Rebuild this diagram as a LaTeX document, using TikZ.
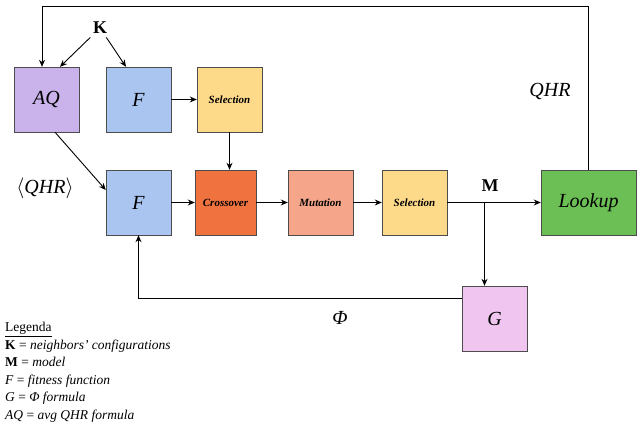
\documentclass[tikz,border=0pt]{standalone}
\usepackage{fontspec}
\setmainfont{Liberation Serif}
\usetikzlibrary{arrows.meta}
\definecolor{cAQ}{HTML}{C9B3EA}
\definecolor{cF}{HTML}{A9C5F0}
\definecolor{cSel}{HTML}{FDD98A}
\definecolor{cCross}{HTML}{F0733F}
\definecolor{cMut}{HTML}{F4A58A}
\definecolor{cLook}{HTML}{6CBF55}
\definecolor{cG}{HTML}{F0C6F0}
\begin{document}
\begin{tikzpicture}[x=1pt,y=-1pt,
  box/.style={draw=black!70, minimum width=65pt, minimum height=65pt, inner sep=0pt, font=\itshape},
  big/.style={font=\itshape\fontsize{20}{20}\selectfont},
  small/.style={font=\itshape\bfseries\fontsize{11}{11}\selectfont},
  arr/.style={-{Stealth[length=7pt,width=6pt]}, line width=0.9pt}]
\useasboundingbox (0,0) rectangle (640,425);
\node[box, big, fill=cAQ] (aq) at (46.5,99.5) {AQ};
\node[box, big, fill=cF] (f1) at (138.5,99.5) {F};
\node[box, small, fill=cSel] (s1) at (229.5,99.5) {Selection};
\node[box, big, fill=cF] (f2) at (138.5,202.5) {F};
\node[box, small, fill=cCross, minimum width=61pt] (cr) at (225.5,202.5) {Crossover};
\node[box, small, fill=cMut] (mu) at (320.5,202.5) {Mutation};
\node[box, small, fill=cSel] (s2) at (414.5,202.5) {Selection};
\node[box, big, fill=cLook, minimum width=95pt] (lk) at (588.5,202.5) {Lookup};
\node[box, big, fill=cG] (g) at (494.5,318.5) {G};
\node[font=\bfseries\fontsize{18}{18}\selectfont] (k) at (100,28) {K};
\node[font=\itshape\fontsize{20}{20}\selectfont] (qhr) at (550,92) {QHR};
\node[font=\itshape\fontsize{20}{20}\selectfont] (aqhr) at (45,188) {$\langle$QHR$\rangle$};
\node[font=\bfseries\fontsize{18}{18}\selectfont] (m) at (490,186) {M};
\node[font=\itshape\fontsize{20}{20}\selectfont] (phi) at (340,318) {Φ};
\coordinate (br) at (484.5,202.5);
\draw[arr] (k) -- (aq.north -| 60,0);
\draw[arr] (k) -- (f1.north -| 126,0);
\draw[arr] (lk.north) -- (588.5,6) -| (aq.north -| 42,0);
\draw[arr] (aq.south -| 55,0) -- (f2.north west |- 0,190);
\draw[arr] (f1) -- (s1);
\draw[arr] (s1) -- (s1 |- cr.north);
\draw[arr] (f2) -- (cr);
\draw[arr] (cr) -- (mu);
\draw[arr] (mu) -- (s2);
\draw[arr] (s2) -- (lk);
\draw[arr] (br) -- (br |- g.north);
\draw[arr] (g.west |- 0,298) -| (f2.south);
\node[anchor=north west, align=left, inner sep=0pt, font=\fontsize{13.5}{17.6}\selectfont] (leg) at (5,322) {%
\underline{Legenda}\\
\textbf{K} = \textit{neighbors' configurations}\\
\textbf{M} = \textit{model}\\
\textit{F} = \textit{fitness function}\\
\textit{G} = \textit{Φ formula}\\
\textit{AQ} = \textit{avg QHR formula}};
\end{tikzpicture}
\end{document}
